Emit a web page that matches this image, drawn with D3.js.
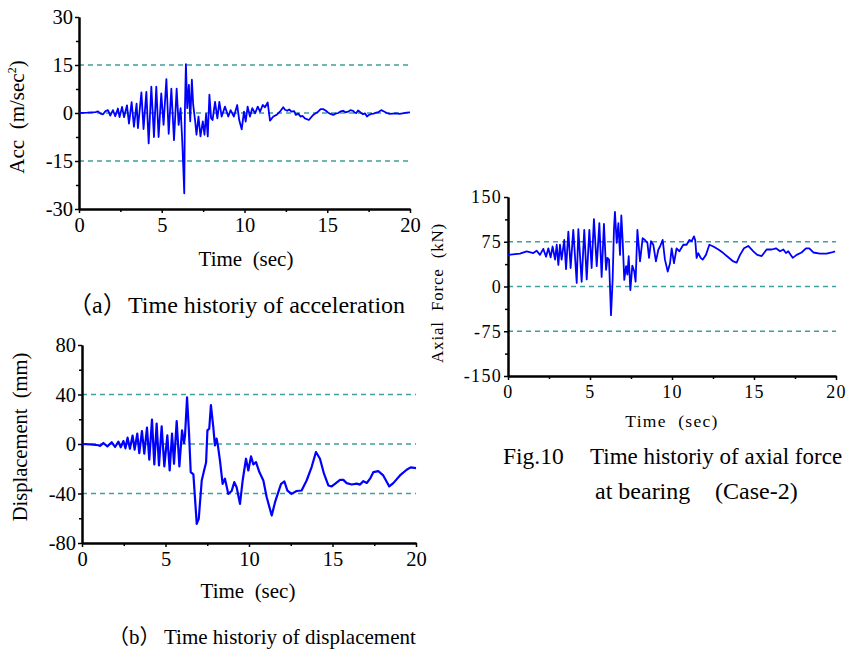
<!DOCTYPE html>
<html>
<head>
<meta charset="utf-8">
<script src="https://cdn.jsdelivr.net/npm/d3@7"></script>
<style>
  body { margin: 0; background: #fff; }
  svg { display: block; }
  text { font-family: "Liberation Serif", "Times New Roman", "Noto Sans CJK SC", serif; fill: #000; white-space: pre; }
</style>
</head>
<body>
<svg id="chart"></svg>
<script>
// ---- data ----

// (a) acceleration, m/sec^2
const accTime = [0, 0.5, 1.0, 1.15, 1.3, 1.45, 1.6, 1.75, 1.89, 2.05, 2.19, 2.35, 2.45, 2.6, 2.72, 2.9, 3.02,
  3.18, 3.32, 3.48, 3.56, 3.77, 3.9, 4.07, 4.21, 4.37, 4.53, 4.67, 4.81, 4.97, 5.11, 5.28, 5.42, 5.58, 5.74,
  5.9, 6.02, 6.14, 6.24, 6.3, 6.36, 6.4, 6.46, 6.54, 6.64, 6.72, 6.82, 6.9, 7.02, 7.1, 7.22, 7.34, 7.48, 7.58,
  7.68, 7.78, 7.88, 7.98, 8.07, 8.22, 8.36, 8.48, 8.62, 8.82, 9.02, 9.16, 9.36, 9.56, 9.68, 9.83, 9.97, 10.07,
  10.19, 10.33, 10.47, 10.64, 10.8, 10.94, 11.1, 11.24, 11.4, 11.54, 11.74, 11.94, 12.14, 12.34, 12.45, 12.58,
  12.7, 12.84, 13.0, 13.1, 13.25, 13.38, 13.5, 13.65, 13.89, 14.15, 14.3, 14.45, 14.6, 14.75, 14.9, 15.06,
  15.2, 15.36, 15.5, 15.66, 15.8, 15.96, 16.1, 16.26, 16.4, 16.56, 16.66, 16.76, 16.86, 16.96, 17.06, 17.16,
  17.28, 17.4, 17.52, 17.66, 17.8, 17.96, 18.1, 18.26, 18.46, 18.6, 18.76, 18.95, 19.16, 19.36, 19.56, 19.8, 20];
const accValue = [0, 0.1, 0.3, 0.5, -0.2, -0.4, 0.6, 0.9, -0.8, 0.9, -1.0, 1.4, -1.3, 1.9, -1.3, 2.4, -3.3,
  3.4, -4.3, 2.9, -4.7, 6.4, -5.0, 6.6, -9.5, 8.2, -7.5, 8.2, -7.5, 6.1, -3.7, 10.6, -6.5, 7.6, -8.5,
  7.6, -3.7, 1.5, -9.0, -16.8, -25.1, 1.1, 15.3, 1.5, 8.8, -2.6, 10.4, 2.6, -2.6, -6.8, -1.1, -7.3, -2.6, -6.8,
  -0.3, -7.3, 5.7, -1.6, -2.2, 3.5, -1.7, 3.5, -1.1, 2.0, -1.1, 0.9, -1.1, 2.5, -2.2, -5.1, 0.4, -2.7,
  2.0, -1.1, 1.5, -0.1, 2.0, 0.4, 2.5, 1.8, 3.3, -2.4, -1.1, -0.6, 0.4, 1.8, 1.0, 0.7,
  1.1, 0.4, 0.6, -0.6, -0.2, -1.1, -0.9, -1.7, -2.2, -0.6, -0.1, 0.4, 1.2, 1.2, 0.8, 0.1,
  -0.3, -0.6, -0.2, 0.0, 0.5, 0.7, 0.2, 0.4, 0.9, 0.7, 0.1, 0.0, 0.8, 0.4, -0.1, -0.4,
  -0.1, -1.1, -0.6, -0.3, -0.2, 0.1, 0.3, 0.9, 0.4, 0.0, -0.3, -0.2, -0.1, -0.3, -0.1, 0.1, 0.2];
const accTicks = [-30, -15, 0, 15, 30];
const accGuides = [-15, 0, 15];

// (b) displacement, mm
const dispTime = [0, 0.5, 1.0, 1.08, 1.28, 1.52, 1.78, 1.98, 2.18, 2.32, 2.48, 2.6, 2.73, 2.87, 3.03, 3.15,
  3.31, 3.43, 3.59, 3.73, 3.89, 4.03, 4.19, 4.33, 4.47, 4.61, 4.77, 4.93, 5.11, 5.25, 5.39, 5.51, 5.67, 5.83,
  5.99, 6.11, 6.17, 6.29, 6.41, 6.51, 6.67, 6.87, 6.99, 7.17, 7.31, 7.43, 7.51, 7.62, 7.72, 7.86, 7.96, 8.06,
  8.14, 8.26, 8.42, 8.56, 8.76, 8.96, 9.12, 9.26, 9.46, 9.62, 9.82, 9.96, 10.12, 10.26, 10.42, 10.62, 10.86,
  11.06, 11.36, 11.56, 11.72, 11.92, 12.12, 12.3, 12.55, 12.85, 13.15, 13.45, 13.75, 14.01, 14.25, 14.49,
  14.75, 14.95, 15.15, 15.45, 15.65, 15.85, 16.15, 16.45, 16.65, 16.85, 17.05, 17.25, 17.45, 17.74, 18.04,
  18.4, 18.64, 19.04, 19.44, 19.68, 20];
const dispValue = [0, -0.3, -1.0, -1.6, 0.8, -1.9, 1.4, -2.4, 1.9, -2.7, 2.4, -3.5, 5.1, -3.8, 6.8, -4.6,
  8.4, -7.3, 10.5, -7.8, 13.2, -12.7, 19.7, -16.5, 16.5, -17.3, 14.3, -18.1, 7.0, -21.4, 8.4, -16.0, 18.6, -18.1,
  11.0, 0.8, 7.0, 37.6, 8.4, -22.7, -24.6, -64.6, -60.5, -29.5, -21.4, -15.0, 11.0, 12.4, 31.4, 13.8, -1.1, 4.3,
  -1.5, -13.2, -32.2, -28.0, -40.3, -38.0, -30.8, -34.9, -48.4, -29.5, -11.9, -21.4, -10.0, -16.5, -14.6, -22.7, -29.5,
  -43.0, -57.8, -47.0, -40.3, -32.2, -30.3, -37.6, -40.3, -38.0, -37.6, -29.5, -18.6, -6.5, -11.9, -24.0,
  -33.5, -34.3, -32.2, -29.0, -29.0, -31.6, -32.7, -32.0, -32.8, -30.0, -31.5, -28.0, -22.7, -21.9, -25.4,
  -34.3, -31.6, -25.4, -20.8, -18.9, -19.5];
const dispTicks = [-80, -40, 0, 40, 80];
const dispGuides = [-40, 0, 40];

// Fig.10 axial force, kN
const forceTime = [0, 0.73, 1.14, 1.54, 1.75, 1.95, 2.15, 2.32, 2.46, 2.6, 2.72, 2.87, 2.97, 3.07, 3.17, 3.27,
  3.43, 3.54, 3.68, 3.82, 3.98, 4.19, 4.29, 4.49, 4.65, 4.8, 4.96, 5.1, 5.24, 5.41, 5.57, 5.71, 5.85, 5.98,
  6.06, 6.16, 6.28, 6.38, 6.46, 6.52, 6.63, 6.73, 6.83, 6.91, 6.99, 7.09, 7.2, 7.28, 7.36, 7.46, 7.58, 7.7,
  7.78, 7.89, 8.05, 8.21, 8.35, 8.5, 8.6, 8.72, 8.86, 9.02, 9.17, 9.27, 9.43, 9.57, 9.74, 9.88, 9.98, 10.12,
  10.28, 10.45, 10.69, 10.89, 11.06, 11.2, 11.34, 11.42, 11.5, 11.6, 11.75, 11.87, 12.07, 12.28, 12.52, 12.83,
  13.13, 13.43, 13.74, 13.94, 14.15, 14.39, 14.65, 14.96, 15.2, 15.47, 15.77, 16.08, 16.34, 16.59, 16.79,
  16.95, 17.09, 17.36, 17.6, 17.9, 18.17, 18.37, 18.62, 19.02, 19.43, 19.74, 19.94];
const forceValue = [53, 55, 59, 56, 60, 53, 63, 50, 64, 49, 67, 45, 70, 36, 70, 45,
  78, 29, 92, 31, 95, 6, 96, 8, 95, 12, 95, 31, 113, 34, 106, 16, 105, 28,
  48, 45, -48, 11, 95, 125, 73, 106, 53, 119, 78, 11, 34, 20, 51, -6, 35, 25,
  8, 95, 42, 81, 78, 73, 48, 76, 70, 42, 62, 67, 78, 45, 25, 39, 64, 39,
  64, 59, 70, 70, 78, 76, 84, 77, 48, 56, 48, 45, 53, 70, 67, 62,
  56, 49, 42, 40, 53, 64, 68, 59, 53, 51, 62, 62, 64, 59, 62,
  56, 59, 48, 53, 57, 64, 64, 57, 55, 55, 57, 59];
const forceTicks = [-150, -75, 0, 75, 150];
const forceGuides = [-75, 0, 75];

const timeTicks = [0, 5, 10, 15, 20];

// ---- drawing ----
const svg = d3.select("#chart").attr("width", 851).attr("height", 655);
const plain = d => String(d); // keep the hyphen minus of the original

function drawPanel(p) {
  const x = d3.scaleLinear().domain([0, 20]).range([p.left, p.right]);
  const y = d3.scaleLinear().domain([p.ticks[0], p.ticks[p.ticks.length - 1]]).range([p.bottom, p.top]);
  const g = svg.append("g");

  // dashed reference lines
  g.selectAll("line.guide").data(p.guides).enter().append("line")
    .attr("class", "guide")
    .attr("x1", p.left).attr("x2", p.right)
    .attr("y1", d => y(d)).attr("y2", d => y(d))
    .attr("stroke", "#3f9f9f")
    .attr("stroke-width", 1.4)
    .attr("stroke-dasharray", "5,4");

  // minor ticks (halfway between the majors)
  const yStep = p.ticks[1] - p.ticks[0];
  const yMinor = p.ticks.slice(0, -1).map(d => d + yStep / 2);
  const xMinor = timeTicks.slice(0, -1).map(d => d + 2.5);

  const ax = g.append("g").attr("transform", `translate(0,${p.bottom})`)
    .call(d3.axisBottom(x).tickValues(timeTicks).tickSize(4).tickSizeOuter(0).tickPadding(p.xPad).tickFormat(plain));
  const axm = g.append("g").attr("transform", `translate(0,${p.bottom})`)
    .call(d3.axisBottom(x).tickValues(xMinor).tickSize(3).tickSizeOuter(0).tickFormat(""));
  const ay = g.append("g").attr("transform", `translate(${p.left},0)`)
    .call(d3.axisLeft(y).tickValues(p.ticks).tickSize(4).tickSizeOuter(0).tickPadding(2).tickFormat(plain));
  const aym = g.append("g").attr("transform", `translate(${p.left},0)`)
    .call(d3.axisLeft(y).tickValues(yMinor).tickSize(3).tickSizeOuter(0).tickFormat(""));

  [ax, axm, ay, aym].forEach(a => {
    a.select(".domain").attr("stroke", "#000").attr("stroke-width", 2);
    a.selectAll(".tick line").attr("stroke", "#000").attr("stroke-width", 1.5);
    a.selectAll("text").attr("font-size", p.fs).attr("letter-spacing", p.ls)
      .attr("font-family", "Liberation Serif, Times New Roman, serif").attr("fill", "#000");
  });

  // the trace
  const line = d3.line().x(d => x(d[0])).y(d => y(d[1]));
  g.append("path")
    .datum(d3.zip(p.time, p.value))
    .attr("d", line)
    .attr("fill", "none")
    .attr("stroke", "#0000ff")
    .attr("stroke-width", p.lw)
    .attr("stroke-linejoin", "round");

  return g;
}

// (a)
drawPanel({ left: 79, right: 410, top: 17, bottom: 209, ticks: accTicks, guides: accGuides,
  time: accTime, value: accValue, fs: 20.5, ls: 0, xPad: 4, lw: 1.8 });
// (b)
drawPanel({ left: 82, right: 416, top: 345, bottom: 543, ticks: dispTicks, guides: dispGuides,
  time: dispTime, value: dispValue, fs: 20.5, ls: 0, xPad: 4, lw: 2.2 });
// Fig.10
drawPanel({ left: 508, right: 836, top: 197, bottom: 376, ticks: forceTicks, guides: forceGuides,
  time: forceTime, value: forceValue, fs: 18, ls: 1.3, xPad: 5, lw: 1.8 });

// axis titles
const accLabel = svg.append("text").attr("transform", "translate(24,117) rotate(-90)")
  .attr("text-anchor", "middle").attr("font-size", 21);
accLabel.append("tspan").text("Acc  (m/sec");
accLabel.append("tspan").attr("dy", -8).attr("font-size", 12).text("2");
accLabel.append("tspan").attr("dy", 8).text(")");

svg.append("text").attr("transform", "translate(27,437) rotate(-90)")
  .attr("text-anchor", "middle").attr("font-size", 20.5).text("Displacement  (mm)");

svg.append("text").attr("transform", "translate(443,293) rotate(-90)")
  .attr("text-anchor", "middle").attr("font-size", 17).attr("letter-spacing", 0.8)
  .text("Axial  Force  (kN)");

svg.append("text").attr("x", 246).attr("y", 266).attr("text-anchor", "middle")
  .attr("font-size", 21).text("Time  (sec)");
svg.append("text").attr("x", 248).attr("y", 598).attr("text-anchor", "middle")
  .attr("font-size", 21).text("Time  (sec)");
svg.append("text").attr("x", 672).attr("y", 427).attr("text-anchor", "middle")
  .attr("font-size", 17.5).attr("letter-spacing", 1.3).text("Time  (sec)");

// captions
svg.append("text").attr("x", 68).attr("y", 313).attr("font-size", 24).text("（a）");
svg.append("text").attr("x", 128).attr("y", 313).attr("font-size", 24).text("Time historiy of acceleration");
svg.append("text").attr("x", 108).attr("y", 644).attr("font-size", 21).text("（b）");
svg.append("text").attr("x", 164).attr("y", 644).attr("font-size", 21).text("Time historiy of displacement");
svg.append("text").attr("x", 503).attr("y", 464).attr("font-size", 23.5).text("Fig.10");
svg.append("text").attr("x", 590).attr("y", 464).attr("font-size", 23).text("Time historiy of axial force");
svg.append("text").attr("x", 595).attr("y", 499).attr("font-size", 24).text("at bearing");
svg.append("text").attr("x", 715).attr("y", 499).attr("font-size", 24).text("(Case-2)");
</script>
</body>
</html>
